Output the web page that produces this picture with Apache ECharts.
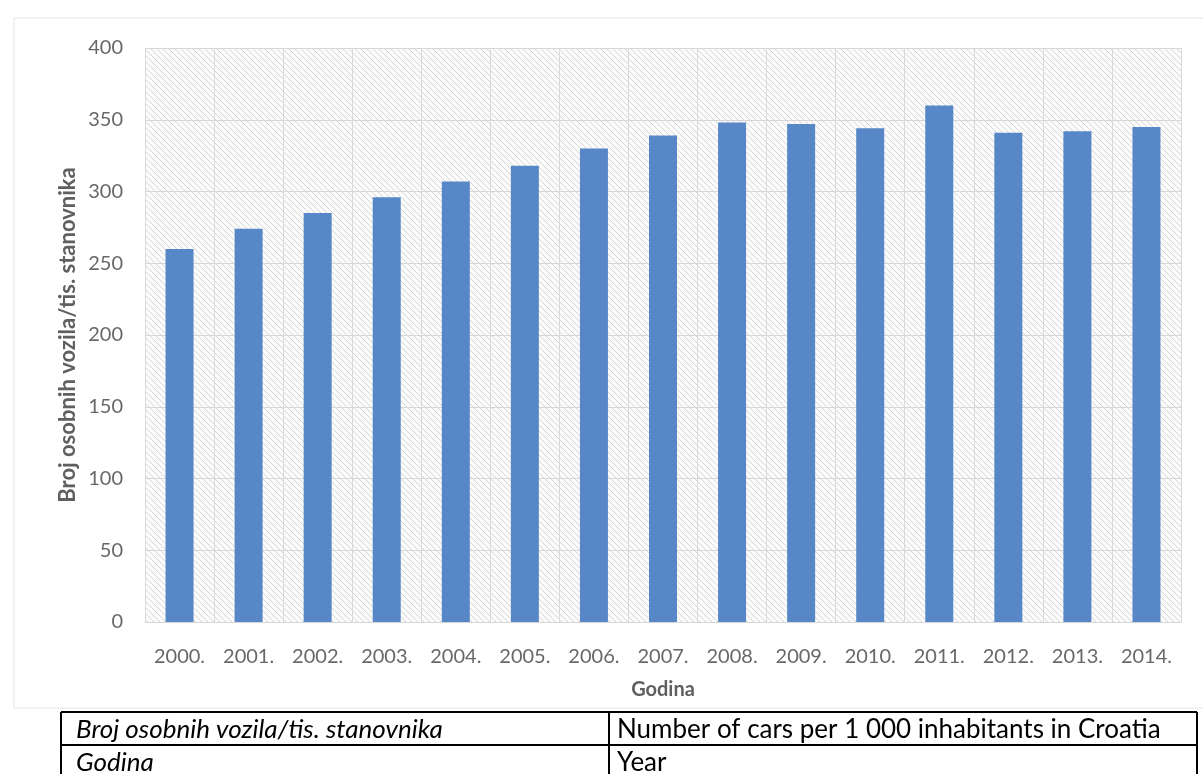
<!DOCTYPE html>
<html>
<head>
<meta charset="utf-8">
<script src="https://cdn.jsdelivr.net/npm/echarts@6/dist/echarts.min.js"></script>
<style>
  html, body { margin: 0; padding: 0; background: #ffffff; }
  #chart { width: 1203px; height: 774px; }
</style>
</head>
<body>
<div id="chart"></div>
<script>
// Passenger cars per 1 000 inhabitants, Croatia 2000–2014
const years = ['2000.', '2001.', '2002.', '2003.', '2004.', '2005.', '2006.', '2007.',
               '2008.', '2009.', '2010.', '2011.', '2012.', '2013.', '2014.'];
const carsPerThousand = [260, 274, 285, 296, 307, 318, 330, 339, 348, 347, 344, 360, 341, 342, 345];
const yTicks = { min: 0, max: 400, interval: 50 };

// Glossary rows shown under the chart (Croatian term | English meaning)
const glossaryHr = ['Broj osobnih vozila/tis. stanovnika', 'Godina'];
const glossaryEn = ['Number of cars per 1 000 inhabitants in Croatia', 'Year'];

const yAxisTitle = 'Broj osobnih vozila/tis. stanovnika';
const xAxisTitle = 'Godina';

// Diagonal hatch used as the plot-area fill
function hatchPattern() {
  const s = 6;
  const c = document.createElement('canvas');
  c.width = s; c.height = s;
  const g = c.getContext('2d');
  g.fillStyle = '#fbfbfb';
  g.fillRect(0, 0, s, s);
  g.strokeStyle = '#d6d6d6';
  g.lineWidth = 1;
  g.beginPath();
  g.moveTo(-1, -1); g.lineTo(s + 1, s + 1);
  g.moveTo(s - 1, -1); g.lineTo(s + 1, 1);
  g.moveTo(-1, s - 1); g.lineTo(1, s + 1);
  g.stroke();
  return { image: c, repeat: 'repeat' };
}

const FONT = 'Lato, "Open Sans", sans-serif';
const GREY = '#686868';

const chart = echarts.init(document.getElementById('chart'), null, { renderer: 'canvas' });

const tableTop = 712, rowH = 33, colL = 61, colM = 609, colR = 1197;
const tableGraphics = [];
// table lines
[0, 1, 2].forEach(function (i) {
  tableGraphics.push({
    type: 'line', silent: true,
    shape: { x1: colL, y1: tableTop + i * rowH, x2: colR, y2: tableTop + i * rowH },
    style: { stroke: '#000', lineWidth: 2 }
  });
});
[colL, colM, colR].forEach(function (x) {
  tableGraphics.push({
    type: 'line', silent: true,
    shape: { x1: x, y1: tableTop, x2: x, y2: tableTop + 2 * rowH },
    style: { stroke: '#000', lineWidth: 2 }
  });
});
glossaryHr.forEach(function (t, i) {
  tableGraphics.push({
    type: 'text', silent: true, x: colL + 15, y: tableTop + i * rowH + rowH / 2 + 1,
    style: { text: t, font: 'italic 26px ' + FONT, fill: '#000', verticalAlign: 'middle' }
  });
});
glossaryEn.forEach(function (t, i) {
  tableGraphics.push({
    type: 'text', silent: true, x: colM + 8, y: tableTop + i * rowH + rowH / 2 + 1,
    style: { text: t, font: '26px ' + FONT, fill: '#000', verticalAlign: 'middle' }
  });
});

chart.setOption({
  animation: false,
  backgroundColor: '#ffffff',
  grid: {
    left: 145, right: 22, top: 48, bottom: 152,
    show: true,
    backgroundColor: hatchPattern(),
    borderWidth: 0
  },
  xAxis: {
    type: 'category',
    data: years,
    boundaryGap: true,
    axisLine: { show: true, lineStyle: { color: '#d6d6d6', width: 1 } },
    axisTick: { show: false },
    splitLine: { show: true, interval: 0, lineStyle: { color: '#d9d9d9', width: 1 } },
    axisLabel: { color: GREY, fontFamily: FONT, fontSize: 20, margin: 25, interval: 0 }
  },
  yAxis: {
    type: 'value',
    min: yTicks.min, max: yTicks.max, interval: yTicks.interval,
    axisLine: { show: false },
    axisTick: { show: false },
    splitLine: { show: true, lineStyle: { color: '#d6d6d6', width: 1 } },
    axisLabel: { color: GREY, fontFamily: FONT, fontSize: 20, margin: 22 }
  },
  series: [{
    type: 'bar',
    data: carsPerThousand,
    barWidth: 28,
    itemStyle: { color: '#5787c6' }
  }],
  graphic: [
    {
      type: 'rect', silent: true, z: -10,
      shape: { x: 14, y: 18, width: 1200, height: 690 },
      style: { fill: 'none', stroke: '#e6e6e6', lineWidth: 1 }
    },
    {
      type: 'text', silent: true, x: 68, y: 335, rotation: Math.PI / 2,
      style: { text: yAxisTitle, font: 'bold 22px ' + FONT, fill: '#606060', align: 'center', verticalAlign: 'middle' }
    },
    {
      type: 'text', silent: true, x: 663, y: 690,
      style: { text: xAxisTitle, font: 'bold 20px ' + FONT, fill: '#606060', align: 'center', verticalAlign: 'middle' }
    }
  ].concat(tableGraphics)
});
</script>
</body>
</html>
